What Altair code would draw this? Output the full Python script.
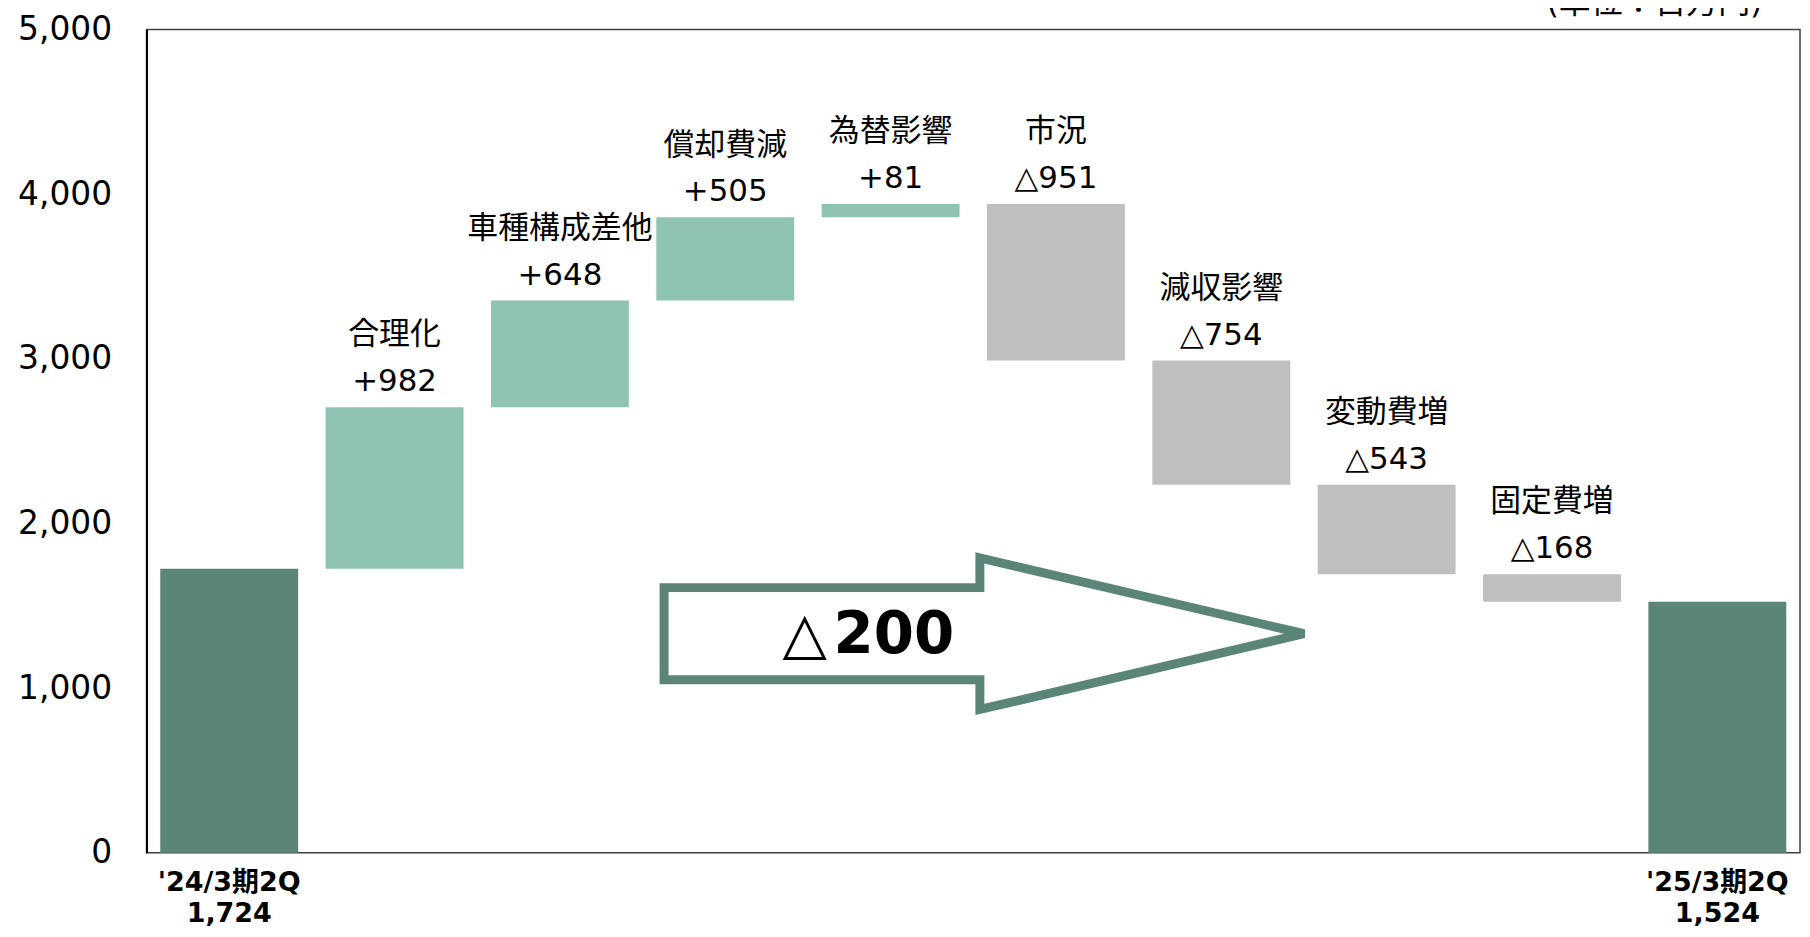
import altair as alt
import pandas as pd

# ---------------- data ----------------
categories = ["'24/3期2Q", "合理化", "車種構成差他", "償却費減", "為替影響",
              "市況", "減収影響", "変動費増", "固定費増", "'25/3期2Q"]
deltas = [1724, 982, 648, 505, 81, -951, -754, -543, -168, 1524]
value_labels = ["1,724", "+982", "+648", "+505", "+81",
                "△951", "△754", "△543", "△168", "1,524"]
kinds = ["total", "up", "up", "up", "up", "down", "down", "down", "down", "total"]

# arrow annotation (x in category-index units, y in 百万円)
arrow_x = [2.63, 4.54, 4.54, 6.50, 4.54, 4.54, 2.63]
arrow_y = [1610, 1610, 1790, 1330, 870, 1050, 1050]
arrow_text_tri = "△"
arrow_text_num = "200"
arrow_text_y = 1313
unit_label = "(単位：百万円)"

# ---------------- table ----------------
starts, ends = [], []
run = 0
for k, d in zip(kinds, deltas):
    if k == "total":
        starts.append(0)
        ends.append(d)
        run = d
    else:
        starts.append(run)
        run = run + d
        ends.append(run)

df = pd.DataFrame({
    "cat": categories,
    "start": starts,
    "end": ends,
    "top": [max(s, e) for s, e in zip(starts, ends)],
    "label": value_labels,
    "kind": kinds,
    "zero": [0] * len(categories),
})
df_mid = df[df["kind"] != "total"]
df_tot = df[df["kind"] == "total"]

arrow_df = pd.DataFrame({"x": arrow_x, "y": arrow_y, "o": list(range(len(arrow_x)))})
tri_df = pd.DataFrame({"x": [3.48], "y": [arrow_text_y], "t": [arrow_text_tri]})
num_df = pd.DataFrame({"x": [4.02], "y": [arrow_text_y], "t": [arrow_text_num]})
unit_df = pd.DataFrame({"x": [8.62], "y": [5000], "t": [unit_label]})

FONT = "DejaVu Sans, Noto Sans CJK JP"

y_scale = alt.Scale(domain=[0, 5000], nice=False)
y_axis = alt.Axis(values=[0, 1000, 2000, 3000, 4000, 5000], format=",.0f", title=None)
x_band = alt.X("cat:N", sort=categories, axis=None,
               scale=alt.Scale(domain=categories, paddingInner=0.166, paddingOuter=0.083))
x_lin_scale = alt.Scale(domain=[-0.5, 9.5], nice=False, zero=False)

bars = alt.Chart(df).mark_bar().encode(
    x=x_band,
    y=alt.Y("start:Q", scale=y_scale, axis=y_axis),
    y2="end:Q",
    color=alt.Color("kind:N", legend=None,
                    scale=alt.Scale(domain=["total", "up", "down"],
                                    range=["#5B8579", "#8FC4B5", "#BFBFBF"])),
)

name_text = alt.Chart(df_mid).mark_text(
    font=FONT, fontSize=31, color="#000", baseline="alphabetic", dy=-63
).encode(
    x=x_band,
    y=alt.Y("top:Q", scale=y_scale, axis=y_axis),
    text="cat:N",
)

value_text = alt.Chart(df_mid).mark_text(
    font=FONT, fontSize=31, color="#000", baseline="alphabetic", dy=-16
).encode(
    x=x_band,
    y=alt.Y("top:Q", scale=y_scale, axis=y_axis),
    text="label:N",
)

bottom_name = alt.Chart(df_tot).mark_text(
    font=FONT, fontSize=27, fontWeight="bold", color="#000", baseline="alphabetic", dy=38
).encode(
    x=x_band,
    y=alt.Y("zero:Q", scale=y_scale, axis=y_axis),
    text="cat:N",
)

bottom_value = alt.Chart(df_tot).mark_text(
    font=FONT, fontSize=27, fontWeight="bold", color="#000", baseline="alphabetic", dy=70
).encode(
    x=x_band,
    y=alt.Y("zero:Q", scale=y_scale, axis=y_axis),
    text="label:N",
)

arrow = alt.Chart(arrow_df).mark_line(
    color="#5B8579", strokeWidth=9, strokeJoin="miter", interpolate="linear-closed"
).encode(
    x=alt.X("x:Q", scale=x_lin_scale, axis=None),
    y=alt.Y("y:Q", scale=y_scale, axis=y_axis),
    order="o:Q",
)

arrow_tri = alt.Chart(tri_df).mark_text(
    font=FONT, fontSize=58, color="#000", baseline="middle"
).encode(
    x=alt.X("x:Q", scale=x_lin_scale, axis=None),
    y=alt.Y("y:Q", scale=y_scale, axis=y_axis),
    text="t:N",
)

arrow_num = alt.Chart(num_df).mark_text(
    font=FONT, fontSize=58, fontWeight="bold", color="#000", baseline="middle"
).encode(
    x=alt.X("x:Q", scale=x_lin_scale, axis=None),
    y=alt.Y("y:Q", scale=y_scale, axis=y_axis),
    text="t:N",
)

unit_txt = alt.Chart(unit_df).mark_text(
    font=FONT, fontSize=32, color="#000", baseline="bottom", dy=-10
).encode(
    x=alt.X("x:Q", scale=x_lin_scale, axis=None),
    y=alt.Y("y:Q", scale=y_scale, axis=y_axis),
    text="t:N",
)

chart = alt.layer(
    bars, name_text, value_text, bottom_name, bottom_value,
    arrow, arrow_tri, arrow_num, unit_txt
).resolve_scale(x="independent").resolve_axis(x="independent").properties(
    width=1659, height=826,
    autosize=alt.AutoSizeParams(type="none"),
    padding={"left": 139, "top": 20, "right": 2, "bottom": 75},
    background="white",
).configure_view(
    stroke="#404040", strokeWidth=1.5
).configure_axisY(
    domainColor="#000", domainWidth=2, ticks=False, grid=False,
    labelFontSize=33, labelPadding=35, labelColor="#000", labelFont=FONT,
)

chart.save("out.html", embed_options={"renderer": "svg", "actions": False})
